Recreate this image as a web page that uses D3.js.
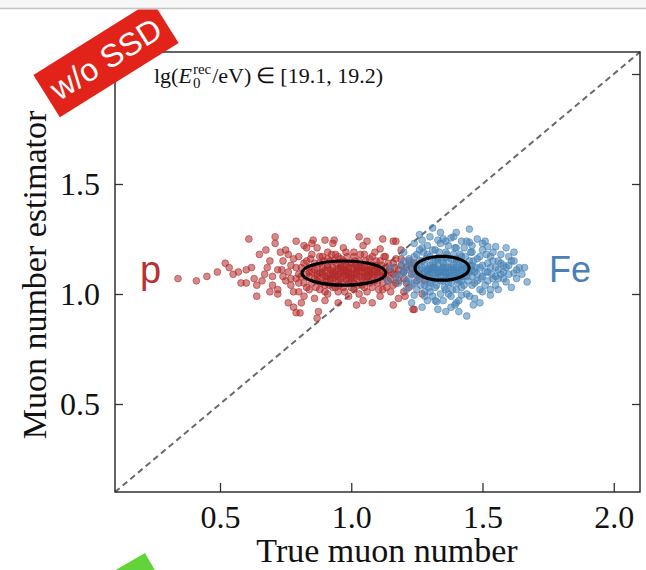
<!DOCTYPE html>
<html>
<head>
<meta charset="utf-8">
<script src="https://cdn.jsdelivr.net/npm/d3@7"></script>
<style>
  body { margin: 0; background: #fff; }
  svg { display: block; }
</style>
</head>
<body>
<div id="chart"></div>
<script>
// muon number estimator vs true muon number, proton and iron showers, one energy bin

const width = 646;
const height = 570;
const plot = { left: 115, right: 640, top: 52, bottom: 492 };

const xDomain = [0.1, 2.1];
const yDomain = [0.1, 2.1];
const xTicks = [0.5, 1.0, 1.5, 2.0];
const yTicks = [0.5, 1.0, 1.5, 2.0];

const axisTitleX = "True muon number";
const axisTitleY = "Muon number estimator";
const badgeText = "w/o SSD";
const primaryLabels = ["p", "Fe"];

// [true, estimated] per shower
const protonPoints = [
  [0.34,1.07],[0.41,1.06],[0.49,1.10],[0.52,1.14],[0.535,1.12],[0.57,1.10],[0.58,1.05],[0.60,1.11],[0.60,1.05],[0.61,1.25],
  [0.63,1.07],[0.64,1.04],[0.64,0.99],[0.65,1.18],[0.67,1.09],[0.675,1.20],[0.68,1.12],[0.70,1.04],[0.70,1.08],[0.71,1.23],
  [0.71,1.26],[0.72,1.02],[0.73,1.19],[0.735,1.11],[0.72,1.00],[0.74,1.15],[0.75,1.06],[0.76,0.96],[0.77,1.13],[0.78,0.94],
  [0.79,1.24],[0.79,0.915],[0.80,1.09],[0.81,0.96],[0.80,1.17],[0.82,1.22],[0.83,1.21],[0.85,1.23],[0.855,1.245],[0.87,1.21],
  [0.87,0.89],[0.875,0.92],[0.90,1.245],[0.90,0.97],[0.91,1.19],[0.93,1.23],[0.935,1.245],[0.95,0.96],[0.97,1.21],[1.01,1.19],
  [1.02,0.95],[1.03,1.26],[1.045,1.22],[1.045,0.97],[1.06,1.24],[1.08,0.96],[1.11,1.205],[1.12,1.25],[1.16,1.24],[1.16,0.95],
  [1.17,1.24],[1.19,1.20],[1.16,1.09],[1.20,1.01],[1.205,0.99],[1.24,0.93],[1.27,1.00],[0.805,0.914],[1.235,0.93],
  [0.45,1.08],[0.55,1.09],[0.62,1.12],[0.66,1.06],[0.69,1.15],[0.72,1.11],[0.74,1.08],[0.75,1.20],[0.77,1.07],[0.78,1.01],
  [0.69,1.01],[0.76,1.18],
  [0.76,1.10],[0.77,1.04],[0.78,1.16],[0.79,1.07],[0.80,1.01],[0.81,1.12],[0.82,1.05],[0.82,0.99],[0.83,1.15],[0.84,1.08],
  [0.84,1.02],[0.85,1.18],[0.86,1.11],[0.86,0.98],[0.87,1.06],[0.88,1.14],[0.88,1.02],[0.89,1.17],[0.89,1.09],[0.90,1.04],
  [0.91,1.12],[0.91,1.00],[0.92,1.15],[0.92,1.07],[0.93,1.03],[0.94,1.18],[0.94,1.10],[0.95,1.06],[0.95,1.01],[0.96,1.13],
  [0.96,1.16],[0.97,1.08],[0.97,1.03],[0.98,1.11],[0.98,1.19],[0.99,1.05],[0.99,0.99],[1.00,1.14],[1.00,1.09],[1.01,1.02],
  [1.01,1.17],[1.02,1.12],[1.02,1.07],[1.03,1.00],[1.03,1.15],[1.04,1.10],[1.04,1.04],[1.05,1.18],[1.05,1.13],[1.06,1.06],
  [1.06,1.01],[1.07,1.11],[1.07,1.16],[1.08,1.08],[1.08,1.03],[1.09,1.13],[1.09,1.19],[1.10,1.05],[1.10,1.10],[1.11,0.99],
  [1.11,1.15],[1.12,1.08],[1.12,1.02],[1.13,1.12],[1.13,1.17],[1.14,1.06],[1.15,1.10],[1.15,1.01],[1.16,1.14],[1.17,1.05],
  [1.18,1.11],[1.18,0.98],[1.19,1.16],[1.20,1.07],[1.21,1.12],[1.22,1.03],[1.23,1.09],[1.24,1.14],[1.25,1.06],
  [0.79,1.12],[0.80,1.05],[0.81,1.08],[0.82,1.14],[0.83,1.03],[0.84,1.12],[0.845,1.16],[0.85,1.05],[0.86,1.14],[0.865,1.03],
  [0.87,1.09],[0.88,1.17],[0.885,1.05],[0.89,1.12],[0.895,1.15],[0.90,1.01],[0.905,1.07],[0.91,1.16],[0.915,1.04],[0.92,1.11],
  [0.925,1.18],[0.93,1.07],[0.935,1.15],[0.94,1.03],[0.945,1.13],[0.95,1.17],[0.955,1.04],[0.96,1.12],[0.965,1.05],[0.97,1.15],
  [0.975,1.01],[0.98,1.13],[0.985,1.17],[0.99,1.07],[0.995,1.14],[1.00,1.03],[1.005,1.12],[1.01,1.05],[1.015,1.15],[1.02,1.09],
  [1.025,1.04],[1.03,1.13],[1.035,1.18],[1.04,1.12],[1.045,1.06],[1.05,1.03],[1.055,1.15],[1.06,1.11],[1.065,1.08],[1.07,1.05],
  [1.075,1.13],[1.08,1.17],[1.085,1.10],[1.09,1.06],[1.095,1.15],[1.10,1.12],[1.105,1.02],[1.11,1.08],[1.115,1.13],[1.12,1.05],
  [1.125,1.17],[1.13,1.09],[1.135,1.03],[1.14,1.14],[1.145,1.11],[1.15,1.07],[1.16,1.04],[1.165,1.12],[1.17,1.16],[1.175,1.09],
  [1.18,1.06],[1.19,1.13],[1.20,1.10],[1.21,1.05],[1.22,1.15],[1.23,1.12],[1.26,1.09],[1.28,1.06],
  [0.83,1.09],[0.85,1.10],[0.86,1.07],[0.87,1.12],[0.88,1.095],[0.89,1.06],[0.90,1.11],[0.90,1.08],[0.91,1.13],[0.92,1.09],
  [0.92,1.06],[0.93,1.12],[0.94,1.085],[0.94,1.06],[0.95,1.115],[0.95,1.09],[0.96,1.07],[0.96,1.10],[0.97,1.125],[0.97,1.095],
  [0.98,1.065],[0.98,1.085],[0.99,1.12],[0.99,1.10],[1.00,1.075],[1.00,1.06],[1.01,1.11],[1.01,1.09],[1.02,1.13],[1.03,1.08],
  [1.03,1.105],[1.04,1.07],[1.05,1.095],[1.05,1.12],[1.06,1.08],[1.07,1.10],[1.08,1.125],[1.09,1.09],[1.10,1.075],[1.11,1.11],
  [0.89,1.10],[0.91,1.08],[0.93,1.10],[0.95,1.08],[0.97,1.11],[0.99,1.09],[1.01,1.07],[1.03,1.12],[1.05,1.08],[1.07,1.09],
  [0.87,1.08],[0.93,1.09],[0.98,1.10],[1.02,1.10],[1.06,1.10],[1.09,1.11],[0.84,1.10],[1.12,1.10]
];

const ironPoints = [
  [1.31,1.30],[1.34,1.28],[1.40,1.28],[1.45,1.295],[1.38,1.255],[1.48,1.25],[1.27,1.245],[1.24,1.23],[1.52,1.215],[1.55,1.215],
  [1.59,1.21],[1.62,1.19],[1.62,1.15],[1.64,1.12],[1.67,1.055],[1.62,1.095],[1.59,1.055],[1.55,1.04],[1.53,0.995],[1.49,0.96],
  [1.44,0.90],[1.42,0.995],[1.36,0.92],[1.325,0.965],[1.29,0.97],[1.24,0.995],[1.465,0.95],[1.395,0.95],[1.49,1.02],[1.35,1.25],
  [1.42,1.24],[1.46,1.22],[1.22,1.16],[1.19,1.13],[1.18,1.05],[1.17,1.08],[1.15,1.12],[1.20,1.19],[1.26,1.27],[1.30,1.26],
  [1.33,0.93],[1.38,0.94],[1.41,0.92],[1.47,0.98],[1.51,1.24],[1.57,1.18],[1.60,1.13],[1.58,1.10],[1.56,1.07],[1.53,1.02],
  [1.60,1.17],[1.66,1.12],[1.63,1.07],[1.14,1.06],[1.21,1.02],[1.23,0.96],[1.28,0.99],[1.27,0.94],
  [1.27,1.21],[1.36,1.24],[1.44,1.24],[1.50,1.23],[1.39,1.26],[1.28,1.01],[1.37,1.00],[1.45,0.99],[1.40,0.96],[1.50,1.01],
  [1.32,0.97],[1.56,1.02],[1.61,1.03],
  [1.20,1.10],[1.21,1.06],[1.22,1.13],[1.23,1.04],[1.24,1.17],[1.24,1.09],[1.25,1.12],[1.25,1.02],[1.26,1.20],[1.26,1.07],
  [1.27,1.15],[1.28,1.10],[1.28,1.04],[1.29,1.22],[1.29,1.18],[1.30,1.01],[1.30,1.13],[1.31,1.07],[1.32,1.20],[1.32,1.03],
  [1.33,1.16],[1.34,1.00],[1.34,1.23],[1.35,1.06],[1.36,1.19],[1.36,1.02],[1.37,1.22],[1.38,1.05],[1.38,0.99],[1.39,1.18],
  [1.40,1.02],[1.40,1.21],[1.41,1.06],[1.42,1.17],[1.42,1.03],[1.43,1.21],[1.44,1.08],[1.44,1.00],[1.45,1.15],[1.46,1.04],
  [1.46,1.19],[1.47,1.10],[1.48,1.06],[1.48,1.16],[1.49,1.12],[1.50,1.08],[1.50,1.20],[1.51,1.04],[1.52,1.14],[1.52,1.10],
  [1.53,1.17],[1.54,1.07],[1.55,1.12],[1.56,1.15],[1.57,1.09],[1.58,1.13],[1.54,1.19],[1.45,1.235],[1.33,1.245],[1.41,0.97],
  [1.35,0.97],[1.31,0.99],
  [1.19,1.09],[1.20,1.15],[1.21,1.11],[1.22,1.07],[1.23,1.14],[1.235,1.10],[1.24,1.05],[1.245,1.13],[1.25,1.18],[1.255,1.08],
  [1.26,1.15],[1.265,1.04],[1.27,1.12],[1.275,1.19],[1.28,1.07],[1.285,1.16],[1.29,1.11],[1.295,1.03],[1.30,1.17],[1.305,1.06],
  [1.31,1.20],[1.315,1.12],[1.32,1.15],[1.325,1.04],[1.33,1.10],[1.335,1.19],[1.34,1.06],[1.345,1.15],[1.35,1.12],[1.355,1.03],
  [1.36,1.09],[1.365,1.18],[1.37,1.12],[1.375,1.07],[1.38,1.16],[1.385,1.02],[1.39,1.08],[1.395,1.21],[1.40,1.14],[1.405,1.05],
  [1.41,1.11],[1.415,1.18],[1.42,1.08],[1.425,1.14],[1.43,1.04],[1.435,1.17],[1.44,1.10],[1.445,1.06],[1.45,1.13],[1.455,1.19],
  [1.46,1.08],[1.465,1.15],[1.47,1.05],[1.475,1.12],[1.48,1.09],[1.49,1.17],[1.495,1.07],[1.50,1.13],[1.51,1.10],[1.515,1.18],
  [1.52,1.06],[1.53,1.12],[1.535,1.09],[1.54,1.15],[1.55,1.08],[1.56,1.11],[1.57,1.14],[1.58,1.07],[1.59,1.12],[1.60,1.09],
  [1.61,1.15],[1.63,1.11],[1.65,1.09],
  [1.26,1.11],[1.27,1.09],[1.28,1.13],[1.29,1.08],[1.30,1.115],[1.30,1.09],[1.31,1.14],[1.31,1.10],[1.32,1.07],[1.32,1.12],
  [1.33,1.095],[1.33,1.13],[1.34,1.08],[1.34,1.11],[1.35,1.14],[1.35,1.10],[1.36,1.07],[1.36,1.12],[1.37,1.095],[1.37,1.15],
  [1.38,1.11],[1.38,1.08],[1.39,1.13],[1.39,1.10],[1.40,1.07],[1.40,1.12],[1.41,1.15],[1.41,1.09],[1.42,1.11],[1.43,1.08],
  [1.43,1.13],[1.44,1.12],[1.45,1.10],[1.46,1.13],[1.33,1.165],[1.36,1.165],[1.40,1.16],[1.30,1.05],[1.37,1.05],[1.42,1.06],
  [1.30,1.10],[1.32,1.11],[1.34,1.10],[1.36,1.10],[1.38,1.12],[1.40,1.10],[1.42,1.12],[1.44,1.10],[1.31,1.12],[1.35,1.12],
  [1.39,1.11],[1.43,1.11],[1.33,1.08],[1.37,1.08],[1.41,1.08],[1.29,1.10],[1.46,1.11]
];

// 1-sigma contours: centre x, centre y, half-width x, half-width y
const protonEllipse = [0.972, 1.095, 0.160, 0.055];
const ironEllipse = [1.346, 1.117, 0.103, 0.054];

const red = "#b22a2a";
const blue = "#4682b4";
const serif = "'Liberation Serif', 'Times New Roman', serif";
const sans = "'Liberation Sans', Arial, sans-serif";

const svg = d3.select("#chart")
    .append("svg")
    .attr("width", width)
    .attr("height", height);

// page strip along the top edge
svg.append("rect")
    .attr("x", 0).attr("y", 0)
    .attr("width", width).attr("height", 8)
    .attr("fill", "#f7f7f7");
svg.append("line")
    .attr("x1", 0).attr("x2", width)
    .attr("y1", 8.5).attr("y2", 8.5)
    .attr("stroke", "#c4c4c4")
    .attr("stroke-width", 1.5);

const x = d3.scaleLinear().domain(xDomain).range([plot.left, plot.right]);
const y = d3.scaleLinear().domain(yDomain).range([plot.bottom, plot.top]);

// y = x reference
svg.append("line")
    .attr("x1", x(xDomain[0])).attr("y1", y(xDomain[0]))
    .attr("x2", x(xDomain[1])).attr("y2", y(xDomain[1]))
    .attr("stroke", "#6a6a6a")
    .attr("stroke-width", 2)
    .attr("stroke-dasharray", "6,4");

function scatter(points, color, cls) {
    svg.append("g")
        .attr("class", cls)
        .selectAll("circle")
        .data(points)
        .enter()
        .append("circle")
        .attr("cx", d => x(d[0]))
        .attr("cy", d => y(d[1]))
        .attr("r", 3.4)
        .attr("fill", color)
        .attr("fill-opacity", 0.55)
        .attr("stroke", color)
        .attr("stroke-opacity", 0.7)
        .attr("stroke-width", 0.8);
}

scatter(protonPoints, red, "proton");
scatter(ironPoints, blue, "iron");

[protonEllipse, ironEllipse].forEach(e => {
    svg.append("ellipse")
        .attr("cx", x(e[0]))
        .attr("cy", y(e[1]))
        .attr("rx", x(e[0] + e[2]) - x(e[0]))
        .attr("ry", y(e[1]) - y(e[1] + e[3]))
        .attr("fill", "none")
        .attr("stroke", "#000")
        .attr("stroke-width", 3.2);
});

// axes, ticks pointing inward
const tickFont = g => g.selectAll("text")
    .attr("font-family", serif)
    .attr("font-size", 32)
    .attr("fill", "#111");

const xAxis = svg.append("g")
    .attr("transform", `translate(0,${plot.bottom})`)
    .call(d3.axisBottom(x).tickValues(xTicks).tickFormat(d3.format(".1f"))
        .tickSizeInner(-9).tickSizeOuter(0).tickPadding(13));
xAxis.call(tickFont);

const yAxis = svg.append("g")
    .attr("transform", `translate(${plot.left},0)`)
    .call(d3.axisLeft(y).tickValues(yTicks).tickFormat(d3.format(".1f"))
        .tickSizeInner(-8).tickSizeOuter(0).tickPadding(15));
yAxis.call(tickFont);

const yAxisRight = svg.append("g")
    .attr("transform", `translate(${plot.right},0)`)
    .call(d3.axisRight(y).tickValues(yTicks).tickFormat("")
        .tickSizeInner(-8).tickSizeOuter(0));

[xAxis, yAxis, yAxisRight].forEach(a => {
    a.select(".domain").remove();
    a.selectAll("line").attr("stroke", "#333").attr("stroke-width", 1.3);
});

svg.append("rect")
    .attr("x", plot.left)
    .attr("y", plot.top)
    .attr("width", plot.right - plot.left)
    .attr("height", plot.bottom - plot.top)
    .attr("fill", "none")
    .attr("stroke", "#222")
    .attr("stroke-width", 1.4);

svg.append("text")
    .attr("x", 387)
    .attr("y", 562)
    .attr("text-anchor", "middle")
    .attr("font-family", serif)
    .attr("font-size", 34)
    .attr("fill", "#111")
    .text(axisTitleX);

svg.append("text")
    .attr("transform", `translate(46,${(plot.top + plot.bottom) / 2 + 3}) rotate(-90)`)
    .attr("text-anchor", "middle")
    .attr("font-family", serif)
    .attr("font-size", 34)
    .attr("fill", "#111")
    .text(axisTitleY);

// energy bin label, pieces laid out left to right
const binLabel = svg.append("g").attr("font-family", serif).attr("fill", "#111");
let cursor = 154;
const base = 83;
function piece(str, opts = {}) {
    const t = binLabel.append("text")
        .attr("x", cursor)
        .attr("y", base + (opts.shift || 0))
        .attr("font-size", opts.size || 22)
        .attr("font-style", opts.italic ? "italic" : "normal")
        .text(str);
    const w = t.node().getComputedTextLength();
    if (!opts.stay) cursor += w;
    return w;
}
piece("lg(");
piece("E", { italic: true });
cursor += 1;
const supW = piece("rec", { size: 15, shift: -9, stay: true });
const subW = piece("0", { size: 15, shift: 5, stay: true });
cursor += Math.max(supW, subW) + 1;
piece("/eV)");
cursor += 5;
piece("\u2208");
cursor += 5;
piece("[19.1, 19.2)");

// primary labels next to the clouds
svg.append("text")
    .attr("x", 140)
    .attr("y", 283)
    .attr("font-family", sans)
    .attr("font-size", 38)
    .attr("fill", "#b83232")
    .text(primaryLabels[0]);

svg.append("text")
    .attr("x", 549)
    .attr("y", 282)
    .attr("font-family", sans)
    .attr("font-size", 36)
    .attr("fill", "#4a80b8")
    .text(primaryLabels[1]);

// tags laid over the panel corners
svg.append("clipPath")
    .attr("id", "page-clip")
    .append("rect")
    .attr("x", 0).attr("y", 9.5)
    .attr("width", width).attr("height", height - 9.5);

const badge = svg.append("g")
    .attr("clip-path", "url(#page-clip)")
    .append("g")
    .attr("transform", "translate(106,59) rotate(-32)");
badge.append("rect")
    .attr("x", -70).attr("y", -25)
    .attr("width", 140).attr("height", 50)
    .attr("fill", "#e2231a");
badge.append("text")
    .attr("x", 0).attr("y", 11)
    .attr("text-anchor", "middle")
    .attr("font-family", sans)
    .attr("font-size", 32)
    .attr("fill", "#fff")
    .text(badgeText);

svg.append("rect")
    .attr("transform", "translate(145,553) rotate(-30)")
    .attr("x", -140).attr("y", 0)
    .attr("width", 140).attr("height", 50)
    .attr("fill", "#62d338");
</script>
</body>
</html>
